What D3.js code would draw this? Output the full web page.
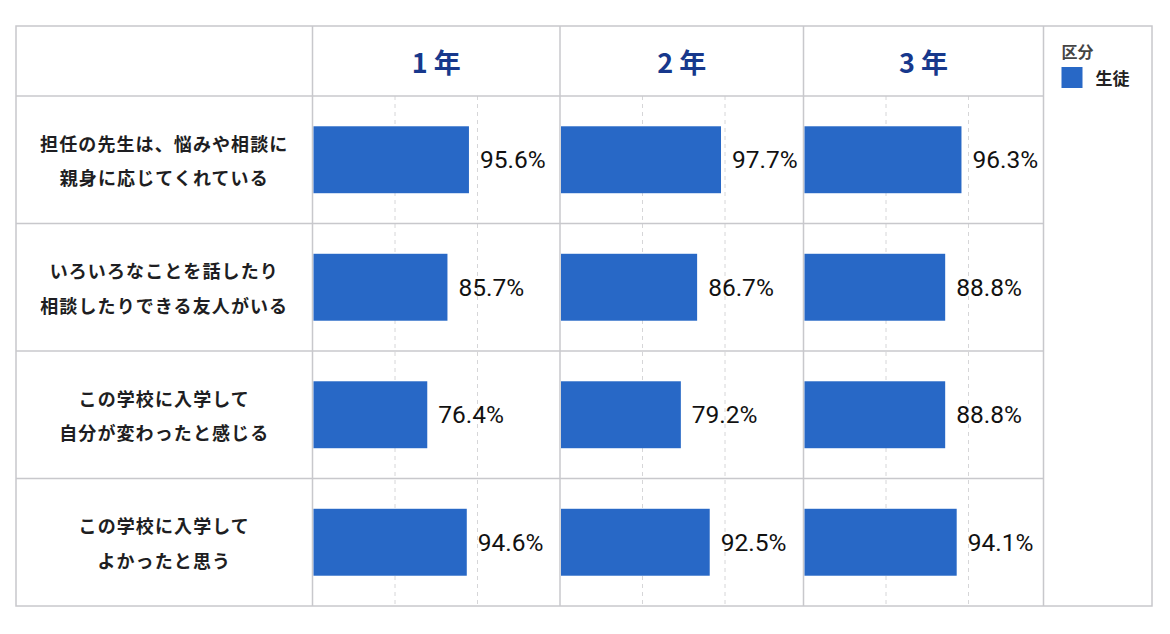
<!DOCTYPE html>
<html lang="ja">
<head>
<meta charset="utf-8">
<script src="https://cdn.jsdelivr.net/npm/d3@7"></script>
<style>
  body { margin: 0; background: #fff; }
  svg { display: block; }
  .q-label { font-family: "Noto Sans CJK JP", sans-serif; font-weight: 700; font-size: 18px; fill: #1e1e22; letter-spacing: 1.1px; }
  .grade { font-family: "Noto Sans CJK JP", sans-serif; font-weight: 700; font-size: 27px; fill: #17388c; letter-spacing: 6px; }
  .val { font-family: Roboto, "Liberation Sans", sans-serif; font-size: 24.5px; fill: #111; }
  .legend-title { font-family: "Noto Sans CJK JP", sans-serif; font-weight: 700; font-size: 16px; fill: #444; }
  .legend-item { font-family: "Noto Sans CJK JP", sans-serif; font-weight: 700; font-size: 17px; fill: #222; }
</style>
</head>
<body>
<svg id="chart" width="1170" height="634"></svg>
<script>
// データ
const grades = ["1年", "2年", "3年"];
const questions = [
    ["担任の先生は、悩みや相談に", "親身に応じてくれている"],
    ["いろいろなことを話したり", "相談したりできる友人がいる"],
    ["この学校に入学して", "自分が変わったと感じる"],
    ["この学校に入学して", "よかったと思う"]
];
const grade1 = [95.6, 85.7, 76.4, 94.6];
const grade2 = [97.7, 86.7, 79.2, 92.5];
const grade3 = [96.3, 88.8, 88.8, 94.1];
const gridTicks = [62, 100];
const legendName = "区分";
const seriesName = "生徒";

const seriesByGrade = [grade1, grade2, grade3];

const svg = d3.select("#chart");
const barColor = "#2868c6";
const lineColor = "#c8c8cc";

// 表のレイアウト
const tableLeft = 16, tableTop = 26, tableRight = 1152, tableBottom = 606;
const labelRight = 312.5;
const panelsRight = 1043.5;
const headerBottom = 96;

// 各学年パネルの左端と右端
const colLeft = d3.scaleOrdinal().domain(grades).range([312.5, 560, 803.5]);
const colRight = d3.scaleOrdinal().domain(grades).range([560, 803.5, 1043.5]);

const row = d3.scaleBand()
    .domain(d3.range(questions.length))
    .range([headerBottom, tableBottom]);

const barH = row.bandwidth() * 0.525;

// 各パネル内の横軸
const x = d3.scaleLinear()
    .domain([24, 100])
    .range([0, 165]);

// グリッド線(破線)
const grid = svg.append("g");
grades.forEach(g => {
    grid.selectAll(null)
        .data(gridTicks)
        .enter().append("line")
        .attr("x1", d => colLeft(g) + x(d))
        .attr("x2", d => colLeft(g) + x(d))
        .attr("y1", headerBottom)
        .attr("y2", tableBottom)
        .attr("stroke", "#d6d6d8")
        .attr("stroke-width", 1)
        .attr("stroke-dasharray", "4,4");
});

// 罫線
const lines = svg.append("g")
    .attr("stroke", lineColor)
    .attr("stroke-width", 1.5)
    .attr("fill", "none");

lines.append("rect")
    .attr("x", tableLeft).attr("y", tableTop)
    .attr("width", tableRight - tableLeft).attr("height", tableBottom - tableTop);

lines.append("line")
    .attr("x1", tableLeft).attr("x2", panelsRight)
    .attr("y1", headerBottom).attr("y2", headerBottom);

lines.selectAll(null)
    .data(d3.range(1, questions.length))
    .enter().append("line")
    .attr("x1", tableLeft).attr("x2", panelsRight)
    .attr("y1", d => row(d)).attr("y2", d => row(d));

lines.selectAll(null)
    .data(grades)
    .enter().append("line")
    .attr("x1", d => colLeft(d)).attr("x2", d => colLeft(d))
    .attr("y1", tableTop).attr("y2", tableBottom);

lines.append("line")
    .attr("x1", panelsRight).attr("x2", panelsRight)
    .attr("y1", tableTop).attr("y2", tableBottom);

// 学年の見出し
svg.append("g")
    .selectAll("text")
    .data(grades)
    .enter().append("text")
    .attr("class", "grade")
    .attr("x", d => (colLeft(d) + colRight(d)) / 2 + 3)
    .attr("y", (tableTop + headerBottom) / 2)
    .attr("text-anchor", "middle")
    .attr("dominant-baseline", "central")
    .text(d => d);

// 設問ラベル
const qLabel = svg.append("g")
    .selectAll("text")
    .data(questions)
    .enter().append("text")
    .attr("class", "q-label")
    .attr("text-anchor", "middle");

qLabel.selectAll("tspan")
    .data((d, i) => d.map((t, j) => ({ t, j, i, n: d.length })))
    .enter().append("tspan")
    .attr("x", (tableLeft + labelRight) / 2)
    .attr("y", d => row(d.i) + row.bandwidth() / 2 + (d.j - (d.n - 1) / 2) * 34.5)
    .attr("dominant-baseline", "central")
    .text(d => d.t);

// 棒と数値
grades.forEach((g, gi) => {
    const vals = seriesByGrade[gi];
    const p = svg.append("g");

    p.selectAll("rect")
        .data(vals)
        .enter().append("rect")
        .attr("x", colLeft(g) + 1)
        .attr("y", (d, i) => row(i) + (row.bandwidth() - barH) / 2)
        .attr("width", d => x(d))
        .attr("height", barH)
        .attr("fill", barColor);

    p.selectAll("text")
        .data(vals)
        .enter().append("text")
        .attr("class", "val")
        .attr("x", d => colLeft(g) + 1 + x(d) + 11)
        .attr("y", (d, i) => row(i) + row.bandwidth() / 2)
        .attr("dominant-baseline", "central")
        .text(d => d.toFixed(1) + "%");
});

// 凡例
const legend = svg.append("g")
    .attr("transform", `translate(${panelsRight + 18},0)`);

legend.append("text")
    .attr("class", "legend-title")
    .attr("x", 0)
    .attr("y", 51)
    .attr("dominant-baseline", "central")
    .text(legendName);

legend.append("rect")
    .attr("x", 0)
    .attr("y", 67)
    .attr("width", 21)
    .attr("height", 21)
    .attr("fill", barColor);

legend.append("text")
    .attr("class", "legend-item")
    .attr("x", 34)
    .attr("y", 77.5)
    .attr("dominant-baseline", "central")
    .text(seriesName);
</script>
</body>
</html>
